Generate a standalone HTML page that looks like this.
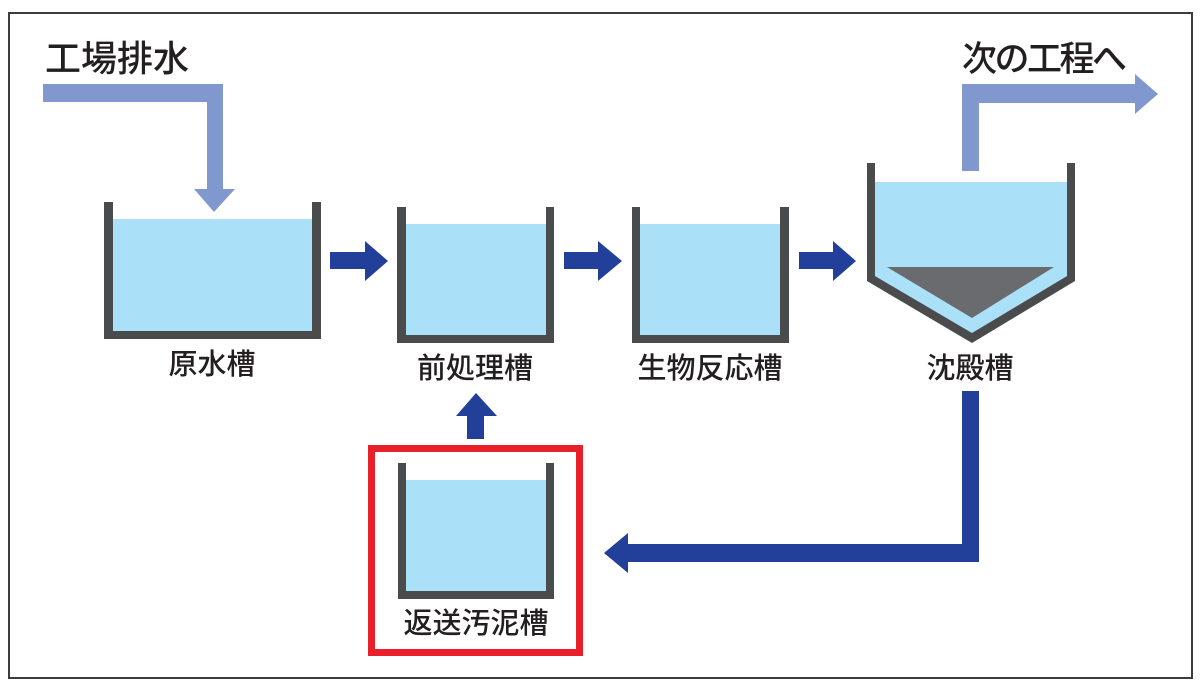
<!DOCTYPE html>
<html><head><meta charset="utf-8"><style>
html,body{margin:0;padding:0;background:#fff;}
svg{display:block;}
text{font-family:"Liberation Sans","Noto Sans CJK JP",sans-serif;fill:#231f20;font-weight:500;}
</style></head><body>
<svg width="1200" height="693" viewBox="0 0 1200 693" xmlns="http://www.w3.org/2000/svg">
<rect x="0" y="0" width="1200" height="693" fill="#fff"/>
<rect x="9" y="13" width="1183" height="665" fill="none" stroke="#3c3c3c" stroke-width="2"/>

<!-- titles -->
<text x="45" y="71" font-size="36">工場排水</text>
<text x="962" y="71" font-size="35" textLength="165" lengthAdjust="spacing">次の工程へ</text>

<!-- inflow pipe -->
<path d="M43 84 H223 V189 H235 L214 212 L194 189 H207 V102 H43 Z" fill="#8198ce"/>
<!-- outflow pipe -->
<path d="M962 171 V84 H1135 V74 L1158 94 L1135 114 V103 H979 V171 Z" fill="#8198ce"/>

<!-- tank 1 -->
<rect x="113" y="219" width="199" height="112" fill="#aae0f8"/>
<path d="M104 202 H113 V331 H312 V202 H321 V339 H104 Z" fill="#4a4b4d"/>
<!-- tank 2 -->
<rect x="406" y="224" width="140" height="111" fill="#aae0f8"/>
<path d="M397 207 H406 V335 H546 V207 H554 V343 H397 Z" fill="#4a4b4d"/>
<!-- tank 3 -->
<rect x="640" y="224" width="140" height="111" fill="#aae0f8"/>
<path d="M632 207 H640 V335 H780 V207 H789 V343 H632 Z" fill="#4a4b4d"/>
<!-- settling tank -->
<path d="M875 182 H1067 V276 L972 333 L875 276 Z" fill="#aae0f8"/>
<path d="M887 267 H1054 L972 318 Z" fill="#6a6b6f"/>
<path d="M867 163 H875 V276 L972 333 L1067 276 V163 H1075 V281 L972 343 L867 281 Z" fill="#4a4b4d"/>

<!-- forward arrows -->
<path d="M330 252 H365 V241 L388 261 L365 281 V269 H330 Z" fill="#22409a"/>
<path d="M564 252 H598 V241 L622 261 L598 281 V269 H564 Z" fill="#22409a"/>
<path d="M799 252 H833 V241 L856 261 L833 281 V269 H799 Z" fill="#22409a"/>

<!-- labels -->
<text x="212" y="374" font-size="29" text-anchor="middle">原水槽</text>
<text x="475" y="378" font-size="29" text-anchor="middle">前処理槽</text>
<text x="710" y="378" font-size="29" text-anchor="middle">生物反応槽</text>
<text x="970" y="378" font-size="29" text-anchor="middle">沈殿槽</text>

<!-- return arrow -->
<path d="M962 391 H979 V562 H628 V573 L604 553 L628 533 V544 H962 Z" fill="#22409a"/>
<!-- up arrow -->
<path d="M467 439 V416 H456 L476 393 L497 416 H484 V439 Z" fill="#22409a"/>

<!-- red box -->
<rect x="371.5" y="448.5" width="208" height="204" fill="none" stroke="#e8202a" stroke-width="7"/>
<!-- tank 4 -->
<rect x="406" y="480" width="140" height="111" fill="#aae0f8"/>
<path d="M398 463 H406 V591 H546 V463 H554 V599 H398 Z" fill="#4a4b4d"/>
<text x="476" y="633" font-size="29" text-anchor="middle">返送汚泥槽</text>
</svg>
</body></html>
